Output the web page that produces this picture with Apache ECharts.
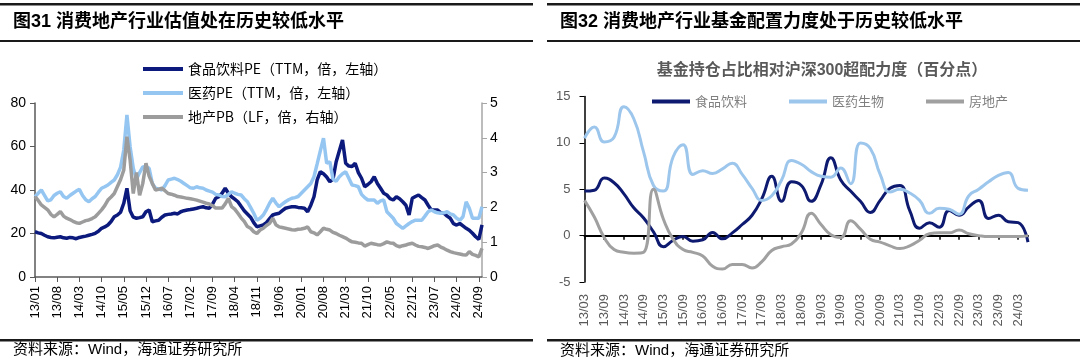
<!DOCTYPE html>
<html><head><meta charset="utf-8">
<script src="https://cdn.jsdelivr.net/npm/echarts@6/dist/echarts.min.js"></script>
<style>html,body{margin:0;padding:0;background:#fff}#c{width:1080px;height:359px}</style>
</head><body><div id="c"></div>
<script>
// ---------- Left chart (图31) : monthly, 13/01 .. 24/10 ----------
const monthCats = [];
for (let y = 13; y <= 24; y++) {
  for (let m = 1; m <= 12; m++) {
    if (y === 24 && m > 10) break;
    monthCats.push(String(y).padStart(2, '0') + '/' + String(m).padStart(2, '0'));
  }
}
const foodPE = [
  20.8,20.3,20.0,19.2,18.5,18.2,18.0,18.3,18.5,18.0,
  17.8,18.2,18.0,17.6,18.2,18.5,18.8,19.2,19.6,20.1,
  21.0,22.4,23.0,23.9,25.5,27.7,28.5,29.8,33.9,40.8,
  30.5,27.5,27.0,27.3,27.7,30.0,30.8,25.4,25.8,26.1,
  27.5,28.5,28.8,29.0,29.3,29.0,30.0,30.5,30.8,31.0,
  31.3,31.6,32.0,32.3,31.8,31.6,33.5,36.2,36.9,38.5,
  40.8,38.5,36.9,35.8,34.6,32.5,30.5,29.0,27.5,25.0,
  23.1,23.5,23.9,25.0,26.8,28.5,29.0,29.3,30.5,31.6,
  32.0,32.3,32.3,32.0,31.8,31.6,30.0,33.0,36.9,44.6,
  48.4,47.5,46.0,43.8,45.0,53.0,58.0,63.0,52.3,51.0,
  50.8,52.3,48.0,45.4,41.5,42.5,43.8,46.1,43.0,40.8,
  38.5,37.7,36.0,35.4,36.9,36.0,34.6,33.0,28.5,36.2,
  37.0,37.7,36.5,35.4,33.0,30.8,30.8,30.8,29.5,29.3,
  28.0,27.0,24.5,23.9,24.6,23.5,22.4,21.5,20.1,18.5,
  17.3,24.0
];
const pharmaPE = [
  36.9,38.5,40.0,37.5,35.0,35.5,37.5,38.5,39.2,37.0,
  36.2,37.5,38.5,39.5,40.3,37.5,35.5,34.6,36.0,37.0,
  39.0,40.8,41.5,42.3,43.5,44.6,47.0,50.5,58.4,74.5,
  59.9,50.0,45.0,48.0,50.7,50.5,50.0,43.0,40.8,40.5,
  40.0,42.0,44.6,45.0,45.4,44.8,44.0,43.0,42.0,41.0,
  40.8,41.5,41.0,40.8,40.0,39.5,39.0,38.0,37.7,37.0,
  36.9,38.0,39.2,38.5,38.0,37.7,36.0,34.6,32.0,29.3,
  26.1,27.0,28.5,31.0,33.9,36.2,34.0,32.3,33.5,34.6,
  35.5,36.2,36.5,37.0,38.5,40.0,41.5,43.0,46.1,52.0,
  58.0,63.8,52.3,53.0,45.0,44.0,46.1,47.5,48.4,45.4,
  42.3,42.0,41.5,38.0,36.5,35.4,35.4,35.4,33.9,35.0,
  35.4,30.0,28.5,27.0,24.6,23.5,22.4,23.5,24.6,25.5,
  26.1,26.1,26.1,28.0,30.0,30.8,30.0,29.5,29.3,29.5,
  30.0,29.0,28.5,27.0,26.1,27.7,34.6,31.6,27.0,27.0,
  27.0,32.3
];
const estatePB = [
  2.31,2.2,2.07,2.0,1.93,1.8,1.73,1.8,1.88,1.75,
  1.69,1.65,1.6,1.56,1.54,1.58,1.62,1.64,1.68,1.73,
  1.83,1.93,2.05,2.21,2.3,2.4,2.6,2.8,3.07,4.03,
  3.36,2.4,3.0,2.35,2.69,3.27,2.9,2.69,2.5,2.52,
  2.55,2.48,2.4,2.38,2.35,2.31,2.3,2.28,2.26,2.25,
  2.23,2.21,2.18,2.15,2.12,2.1,2.05,1.98,1.98,1.98,
  2.1,2.26,2.02,1.95,1.83,1.7,1.6,1.45,1.4,1.3,
  1.25,1.35,1.4,1.48,1.54,1.69,1.5,1.44,1.42,1.4,
  1.38,1.36,1.35,1.37,1.38,1.4,1.44,1.3,1.27,1.21,
  1.3,1.4,1.37,1.35,1.28,1.25,1.2,1.16,1.12,1.06,
  1.01,1.0,0.98,0.97,0.89,0.93,0.97,0.95,0.93,0.92,
  0.96,1.01,0.98,0.97,0.9,0.87,0.9,0.92,0.95,0.97,
  0.92,0.88,0.87,0.85,0.82,0.86,0.9,0.92,0.86,0.82,
  0.77,0.73,0.7,0.68,0.66,0.64,0.63,0.73,0.65,0.62,
  0.58,0.82
];
const leftNames = ['食品饮料PE（TTM，倍，左轴）', '医药PE（TTM，倍，左轴）', '地产PB（LF，倍，右轴）'];

// ---------- Right chart (图32) : quarterly, 13/03 .. 24/06 ----------
const quarterCats = [];
for (let y = 13; y <= 24; y++) {
  for (const m of ['03','06','09','12']) {
    if (y === 24 && (m === '09' || m === '12')) break;
    quarterCats.push(String(y) + '/' + m);
  }
}
const foodOver = [4.8,4.9,6.2,5.7,4.5,3.0,1.9,0.4,-1.2,-0.5,-0.1,-0.6,-0.45,0.35,-0.35,0.3,1.2,2.2,4.0,6.4,3.7,5.8,5.4,3.7,5.5,8.4,6.0,4.8,3.7,2.5,3.8,5.1,5.4,2.7,0.8,1.4,0.9,2.7,2.2,3.1,3.8,1.85,2.2,1.5,1.4,-0.7];
const pharmaOver = [10.5,11.7,10.1,10.6,13.9,12.6,9.0,5.4,4.8,8.5,9.8,6.6,7.0,6.7,7.2,7.8,6.6,5.1,3.8,4.3,6.0,8.1,7.7,6.9,6.4,6.3,7.3,5.6,10.0,9.4,6.6,4.7,5.0,4.6,3.8,2.4,2.95,2.85,2.3,4.3,5.0,5.8,6.5,6.8,5.1,4.9];
const estateOver = [3.8,2.0,-0.2,-1.5,-1.8,-1.9,-1.8,5.0,1.8,-0.4,-1.5,-1.8,-2.2,-3.3,-3.6,-3.1,-3.1,-3.5,-2.8,-1.6,-1.2,-0.9,0.3,2.4,1.2,0.1,-0.2,1.6,0.7,-0.4,-0.7,-1.1,-1.4,-1.1,-0.5,0.2,0.3,0.3,0.6,0.2,0.0,-0.1,-0.1,-0.1,-0.1,0.0];
const rightNames = ['食品饮料', '医药生物', '房地产'];

const NAVY = '#0b1a7c', LBLUE = '#95c6f2', GRAY = '#9c9c9c';
const LAT = '"Liberation Sans", Arial, "Noto Sans CJK SC", sans-serif';
const CJK = '"Noto Sans CJK SC", "Liberation Sans", sans-serif';

const chart = echarts.init(document.getElementById('c'), null, {renderer: 'canvas'});
const rule = (x, y, w, h) => ({type: 'rect', silent: true, shape: {x, y, width: w, height: h}, style: {fill: '#1a1a1a'}});
chart.setOption({
  animation: false,
  backgroundColor: '#fff',
  textStyle: {fontFamily: LAT},
  graphic: [
    rule(0, 3, 533, 2.5), rule(0, 40, 533, 2), rule(0, 339, 533, 2.5),
    rule(547, 3, 533, 2.5), rule(547, 40, 533, 2), rule(547, 339, 533, 2.5),
    {type: 'text', left: 13, top: 13, silent: true, style: {text: '图31 消费地产行业估值处在历史较低水平', font: 'bold 18px "Liberation Sans", "Noto Sans CJK SC", sans-serif', fill: '#000'}},
    {type: 'text', left: 560, top: 13, silent: true, style: {text: '图32 消费地产行业基金配置力度处于历史较低水平', font: 'bold 18px "Liberation Sans", "Noto Sans CJK SC", sans-serif', fill: '#000'}},
    {type: 'text', left: 13, top: 342, silent: true, style: {text: '资料来源：Wind，海通证券研究所', font: '15px "Liberation Sans", "Noto Sans CJK SC", sans-serif', fill: '#000'}},
    {type: 'text', left: 560, top: 343, silent: true, style: {text: '资料来源：Wind，海通证券研究所', font: '15px "Liberation Sans", "Noto Sans CJK SC", sans-serif', fill: '#000'}},
    {type: 'text', x: 822, y: 71, silent: true, style: {text: '基金持仓占比相对沪深300超配力度（百分点）', font: 'bold 16px "Liberation Sans", "Noto Sans CJK SC", sans-serif', fill: '#595959', align: 'center', verticalAlign: 'middle'}}
  ],
  legend: [
    {orient: 'vertical', left: 138, top: 57, itemWidth: 40, itemHeight: 4, itemGap: 10, icon: 'rect',
     data: leftNames, textStyle: {fontSize: 14, color: '#000', fontFamily: CJK}},
    {orient: 'horizontal', left: 647, top: 90, itemWidth: 38, itemHeight: 4, itemGap: 42, icon: 'rect',
     data: rightNames, textStyle: {fontSize: 13, color: '#7f7f7f', fontFamily: CJK}}
  ],
  grid: [
    {left: 35, right: 598, top: 103, bottom: 82},
    {left: 584.5, right: 52, top: 96.5, bottom: 77}
  ],
  xAxis: [
    {gridIndex: 0, type: 'category', data: monthCats, boundaryGap: false,
     axisLine: {lineStyle: {color: '#595959', width: 1.5}},
     axisTick: {interval: 6, length: 5, lineStyle: {color: '#595959'}},
     axisLabel: {interval: 6, rotate: 90, fontSize: 13, color: '#000', margin: 9}},
    {gridIndex: 1, type: 'category', data: quarterCats, boundaryGap: false, position: 'bottom',
     axisLine: {onZero: true, lineStyle: {color: '#000', width: 2}},
     axisTick: {interval: 1, length: 4, lineStyle: {color: '#000', width: 1.5}},
     axisLabel: {show: false}},
    {gridIndex: 1, type: 'category', data: quarterCats, boundaryGap: false, position: 'bottom',
     axisLine: {show: false, onZero: false}, axisTick: {show: false},
     axisLabel: {interval: 1, rotate: 90, fontSize: 13, color: '#595959', margin: 12}}
  ],
  yAxis: [
    {gridIndex: 0, type: 'value', min: 0, max: 80, interval: 20, splitLine: {show: false},
     axisLine: {show: true, lineStyle: {color: '#595959', width: 1.5}},
     axisTick: {show: true, length: 5}, axisLabel: {fontSize: 14, color: '#000', margin: 9}},
    {gridIndex: 0, type: 'value', position: 'right', min: 0, max: 5, interval: 1, splitLine: {show: false},
     axisLine: {show: true, lineStyle: {color: '#a6a6a6', width: 1.5}},
     axisTick: {show: true, length: 5}, axisLabel: {fontSize: 14, color: '#000', margin: 8}},
    {gridIndex: 1, type: 'value', min: -5, max: 15, interval: 5, splitLine: {show: false},
     axisLine: {show: true, lineStyle: {color: '#000', width: 1.5}},
     axisTick: {show: true, length: 5}, axisLabel: {fontSize: 13, color: '#595959', margin: 14}}
  ],
  series: [
    {name: leftNames[0], type: 'line', xAxisIndex: 0, yAxisIndex: 0, data: foodPE, symbol: 'none', color: NAVY, lineStyle: {width: 3.5, color: NAVY}},
    {name: leftNames[1], type: 'line', xAxisIndex: 0, yAxisIndex: 0, data: pharmaPE, symbol: 'none', color: LBLUE, lineStyle: {width: 3.5, color: LBLUE}},
    {name: leftNames[2], type: 'line', xAxisIndex: 0, yAxisIndex: 1, data: estatePB, symbol: 'none', color: GRAY, lineStyle: {width: 3.5, color: GRAY}},
    {name: rightNames[0], type: 'line', xAxisIndex: 1, yAxisIndex: 2, data: foodOver, symbol: 'none', smooth: true, color: '#0d1a70', lineStyle: {width: 3, color: '#0d1a70'}},
    {name: rightNames[1], type: 'line', xAxisIndex: 1, yAxisIndex: 2, data: pharmaOver, symbol: 'none', smooth: true, color: '#9dc6ec', lineStyle: {width: 3, color: '#9dc6ec'}},
    {name: rightNames[2], type: 'line', xAxisIndex: 1, yAxisIndex: 2, data: estateOver, symbol: 'none', smooth: true, color: '#a0a0a0', lineStyle: {width: 3, color: '#a0a0a0'}}
  ]
});
</script></body></html>
